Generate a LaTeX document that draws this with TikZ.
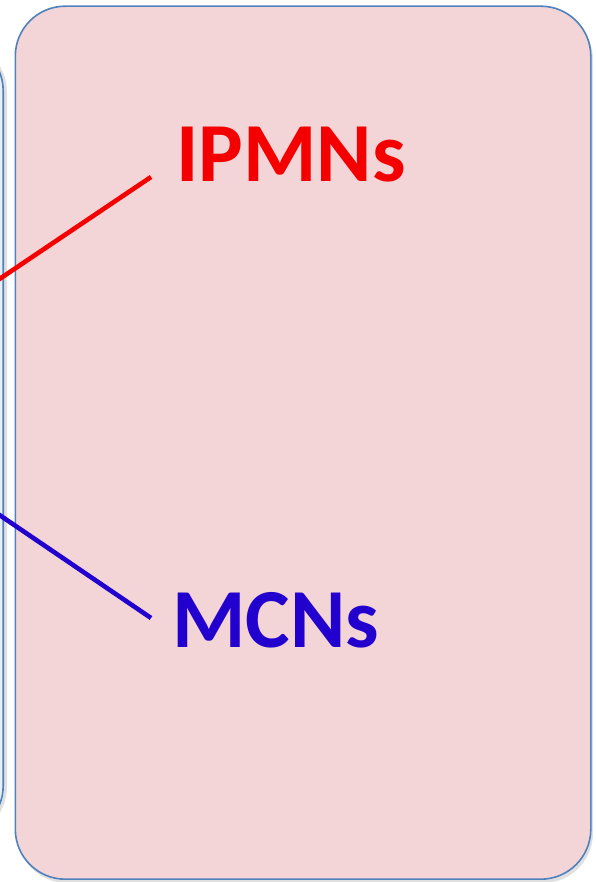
\documentclass[tikz,border=0pt]{standalone}
\usepackage{fontspec}
\setmainfont{Carlito}
\definecolor{pinkfill}{RGB}{243,213,215}
\definecolor{boxline}{RGB}{79,129,189}
\definecolor{leftfill}{RGB}{232,238,246}
\definecolor{ipred}{RGB}{245,0,0}
\definecolor{mcblue}{RGB}{34,0,206}
\begin{document}
\begin{tikzpicture}[x=1pt,y=1pt,
  panel/.style={draw=boxline,line width=1.6pt,rounded corners=50pt},
  label/.style={font=\fontsize{84}{84}\selectfont\bfseries,inner sep=0pt,anchor=base west},
  link/.style={line width=4.6pt}]
\useasboundingbox (0,0) rectangle (596,882);
\begin{scope}
\clip (0,0) rectangle (596,882);
% shadows
\fill[black!12,rounded corners=50pt] (-58,45) rectangle (7,840);
\fill[black!12,rounded corners=50pt] (17,-1) rectangle (593,872);
\node[panel,fill=leftfill,minimum width=66pt,minimum height=795pt,anchor=north east] (leftbox) at (4,842) {};
\node[panel,fill=pinkfill,minimum width=575.5pt,minimum height=873pt,anchor=south west] (mainbox) at (14.5,2) {};
\node[label,text=ipred] (ipmn) at (176,700) {IPMNs};
\node[label,text=mcblue] (mcn) at (172,234) {MCNs};
\coordinate (redstart) at (-2,602);
\coordinate (redend) at (151,705);
\coordinate (bluestart) at (-2,368);
\coordinate (blueend) at (151,264);
\draw[link,ipred] (redstart) -- (redend);
\draw[link,mcblue] (bluestart) -- (blueend);
\end{scope}
\end{tikzpicture}
\end{document}
